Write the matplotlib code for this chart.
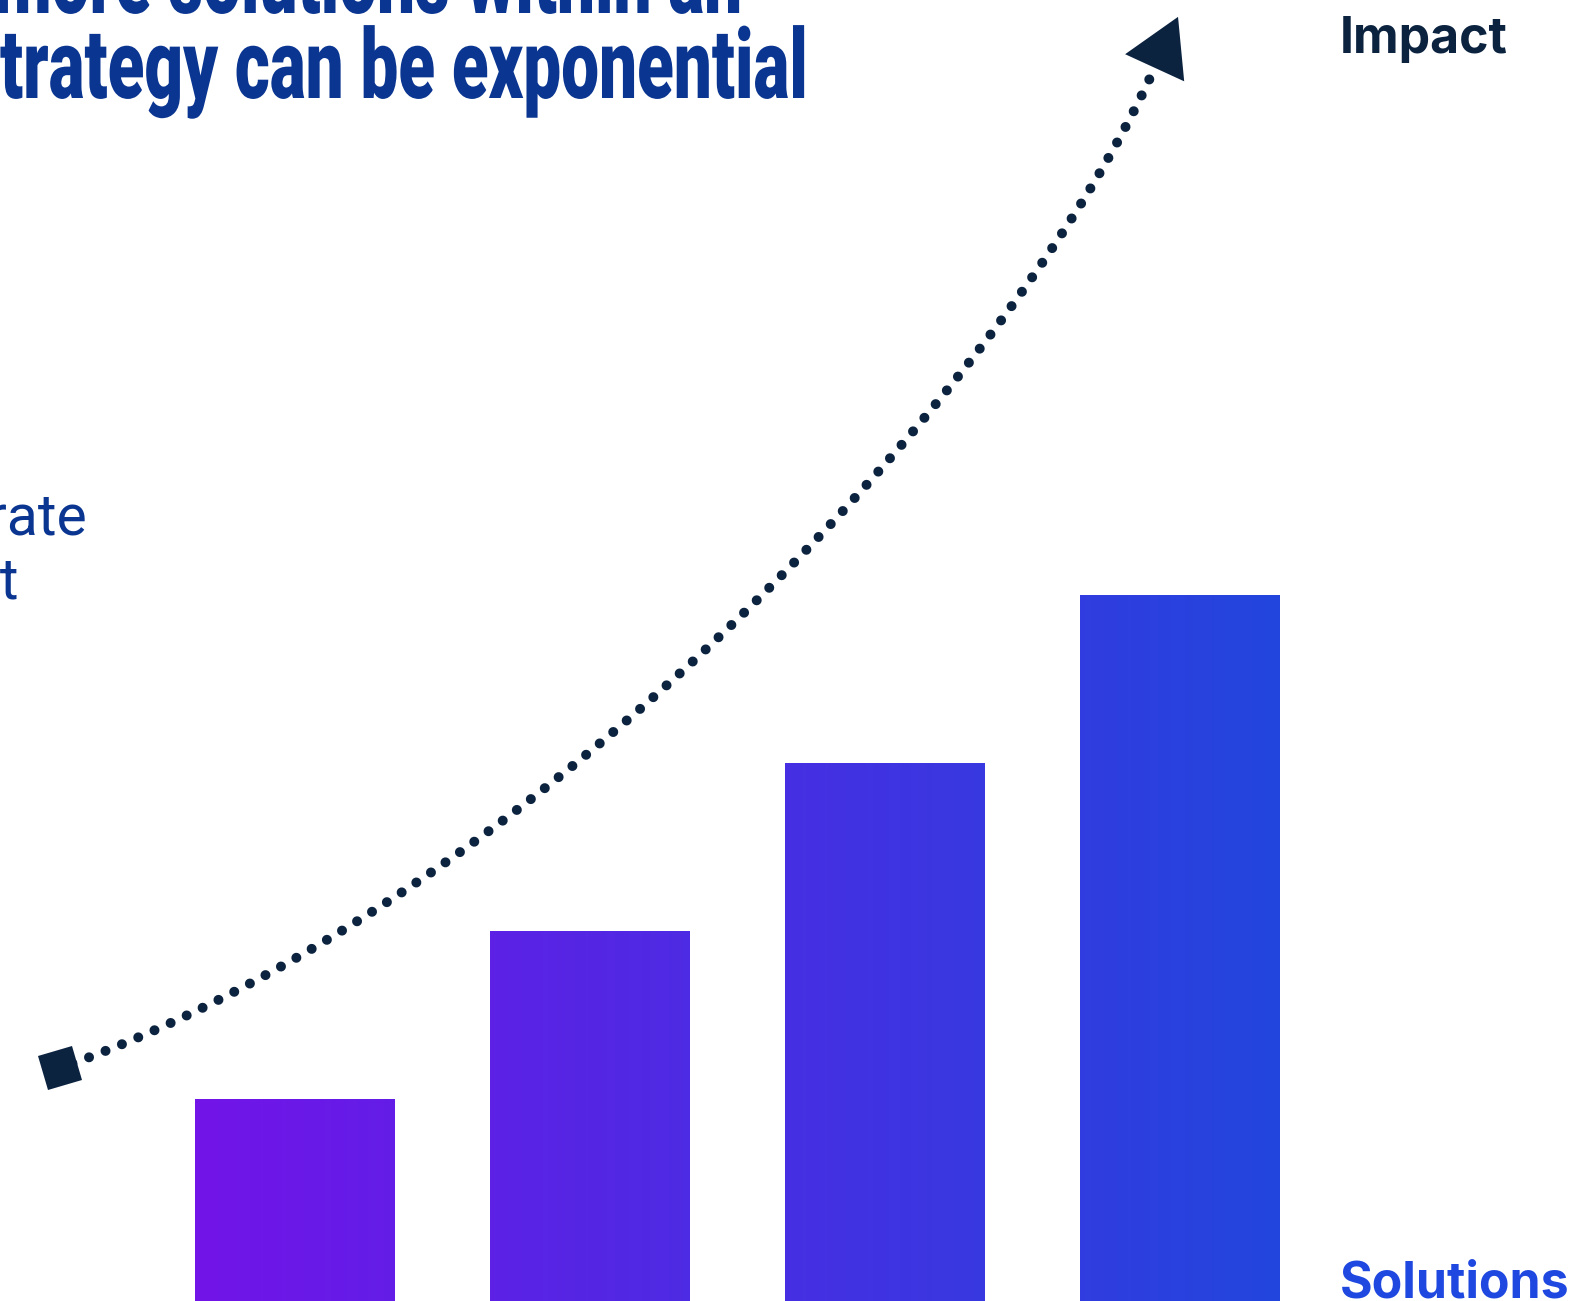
import numpy as np
import matplotlib
matplotlib.use("Agg")
import matplotlib.pyplot as plt
from matplotlib.colors import to_rgb
from matplotlib.markers import MarkerStyle
from matplotlib.patches import Polygon
from matplotlib.patheffects import AbstractPathEffect
from matplotlib.transforms import Affine2D

# chart data
solutions = [1, 2, 3, 4]
impact = [1.2, 2.2, 3.2, 4.2]

title_lines = ["The impact of more solutions within an",
               "integrated strategy can be exponential"]
side_label = "Moderate\nimpact"
y_label = "Impact"
x_label = "Solutions"

# trend arrow, cubic Bezier control points in data units
curve_x = [0.205, 1.798, 3.408, 3.903]
curve_y = [1.387, 2.369, 5.399, 7.292]

NAVY = "#0c2340"
TITLE_BLUE = "#0a3591"
LABEL_BLUE = "#1f48e0"
GRAD_LEFT = "#7214e9"
GRAD_RIGHT = "#2246dd"


class Condense(AbstractPathEffect):
    """squeeze glyphs horizontally around a fixed x (display pixels)"""

    def __init__(self, sx, anchor_x):
        super().__init__()
        self.sx = sx
        self.anchor_x = anchor_x

    def draw_path(self, renderer, gc, tpath, affine, rgbFace=None):
        squeeze = (Affine2D().translate(-self.anchor_x, 0)
                   .scale(self.sx, 1).translate(self.anchor_x, 0))
        renderer.draw_path(gc, tpath, affine + squeeze, rgbFace)


W, H = 1584, 1301
fig = plt.figure(figsize=(W / 100, H / 100), dpi=100)
ax = fig.add_axes([0, 0, 1, 1])
ax.axis("off")

bar_w = 0.675
bars = ax.bar(solutions, impact, width=bar_w, color="none", linewidth=0)

# horizontal gradient running across all bars
c0 = np.array(to_rgb(GRAD_LEFT))
c1 = np.array(to_rgb(GRAD_RIGHT))
gx0 = solutions[0] - bar_w / 2
gx1 = solutions[-1] + bar_w / 2
for b in bars:
    x0 = b.get_x()
    x1 = x0 + b.get_width()
    xs = np.linspace(x0, x1, 80)
    t = ((xs - gx0) / (gx1 - gx0))[:, None]
    row = c0 + t * (c1 - c0)
    img = ax.imshow(row[None, :, :], extent=(x0, x1, 0, b.get_height()),
                    aspect="auto", interpolation="bilinear", zorder=2)
    img.set_clip_path(b)

ax.set_xlim(0.002, 5.371)
ax.set_ylim(0, 7.744)

# dotted trend curve
tt = np.linspace(0, 1, 500)
px = np.array(curve_x)
py = np.array(curve_y)
bern = np.stack([(1 - tt) ** 3, 3 * (1 - tt) ** 2 * tt, 3 * (1 - tt) * tt ** 2, tt ** 3])
bx = px @ bern
by = py @ bern
ax.plot(bx, by, color=NAVY, lw=7.2, linestyle=(0.44, (0.001, 1.77)),
        dash_capstyle="round", zorder=3)

# square at the start
ax.plot([curve_x[0]], [curve_y[0]], linestyle="none",
        marker=MarkerStyle("s", transform=Affine2D().rotate_deg(15)),
        ms=25.3, mew=0, color=NAVY, zorder=4)

# arrow head at the end, following the curve direction
trans = ax.transData
p_end = trans.transform((bx[-1], by[-1]))
p_prev = trans.transform((curve_x[2], curve_y[2]))
d = p_end - p_prev
d = d / np.hypot(*d)
n = np.array([-d[1], d[0]])
base = p_end + 9 * d
tip = base + 56 * d
tri = trans.inverted().transform([tip, base + 32.5 * n, base - 32.5 * n])
ax.add_patch(Polygon(tri, closed=True, color=NAVY, lw=0, zorder=4))

# title in a condensed heavy look
title_kw = dict(fontsize=70, fontweight="heavy", family=["Roboto", "DejaVu Sans"],
                color=TITLE_BLUE, ha="right", va="baseline")
renderer = fig.canvas.get_renderer()
probe = fig.text(0, 0, "trategy can be exponential", **title_kw)
probe_w = probe.get_window_extent(renderer).width
probe.remove()
sx = 808 / probe_w

fig.text(742 / W, 1 - 13 / H, title_lines[0],
         path_effects=[Condense(sx, 742)], **title_kw)
fig.text(808 / W, 1 - 98 / H, title_lines[1],
         path_effects=[Condense(sx, 808)], **title_kw)

fig.text(87 / W, 1 - 599 / H, side_label, ha="right", va="baseline",
         multialignment="left", linespacing=1.22, fontsize=41,
         family=["Roboto", "DejaVu Sans"], color=TITLE_BLUE)

fig.text(1340 / W, 1 - 53 / H, y_label, ha="left", va="baseline",
         fontsize=36, fontweight="bold", family=["Inter", "DejaVu Sans"], color=NAVY)
fig.text(1340 / W, 1 - 1297 / H, x_label, ha="left", va="baseline",
         fontsize=36, fontweight="bold", family=["Inter", "DejaVu Sans"], color=LABEL_BLUE)

fig.savefig("out.png", dpi=100)
